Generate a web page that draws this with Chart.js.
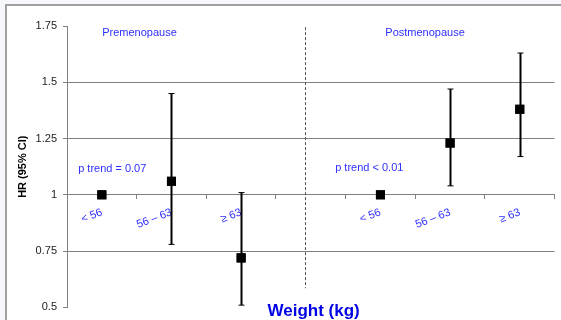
<!DOCTYPE html>
<html>
<head>
<meta charset="utf-8">
<script src="https://cdn.jsdelivr.net/npm/chart.js@4.4.1/dist/chart.umd.min.js"></script>
<style>
  html, body { margin: 0; padding: 0; background: #f7f8fc; }
  #wrap { width: 561px; height: 320px; position: relative; }
</style>
</head>
<body>
<div id="wrap"><canvas id="c" width="561" height="320"></canvas></div>
<script>
// weight categories (the empty one is the gap between the two groups)
const categories = ["< 56", "56 – 63", "≥ 63", "", "< 56", "56 – 63", "≥ 63"];
const hr     = [1.00, 1.06, 0.72, null, 1.00, 1.23, 1.38];
const ciLow  = [null, 0.78, 0.51, null, null, 1.04, 1.17];
const ciHigh = [null, 1.45, 1.01, null, null, 1.47, 1.63];
const yTicks = [0.5, 0.75, 1, 1.25, 1.5, 1.75];

const groupLabels = ["Premenopause", "Postmenopause"];
const trendLabels = ["p trend = 0.07", "p trend < 0.01"];

const FONT = "'Liberation Sans', Arial, sans-serif";
const BLUE = "#2f2fff";

// frame + notes + error bars, all placed through the scales
const extras = {
  id: "extras",
  beforeDraw(chart) {
    const c = chart.ctx;
    c.save();
    c.fillStyle = "#f7f8fc";
    c.fillRect(0, 0, chart.width, chart.height);
    c.fillStyle = "#ffffff";
    c.fillRect(6, 5, chart.width - 6, chart.height - 5);
    c.strokeStyle = "#a0a0a0";
    c.lineWidth = 2;
    c.beginPath();
    c.moveTo(6, chart.height);
    c.lineTo(6, 5);
    c.lineTo(chart.width, 5);
    c.stroke();
    c.restore();
  },
  afterDatasetsDraw(chart) {
    const c = chart.ctx, x = chart.scales.x, y = chart.scales.y;
    c.save();
    // divider between groups
    const dx = Math.round(x.getPixelForValue(2.92)) + 0.5;
    c.strokeStyle = "#555";
    c.lineWidth = 1;
    c.setLineDash([3, 2]);
    c.beginPath();
    c.moveTo(dx, y.getPixelForValue(1.745));
    c.lineTo(dx, y.getPixelForValue(0.585));
    c.stroke();
    c.setLineDash([]);

    // error bars
    c.strokeStyle = "#000";
    hr.forEach((v, i) => {
      if (ciLow[i] == null) return;
      const px = Math.round(x.getPixelForValue(i)) + 0.5;
      const top = y.getPixelForValue(ciHigh[i]);
      const bot = y.getPixelForValue(ciLow[i]);
      c.lineWidth = 2;
      c.beginPath();
      c.moveTo(px, top);
      c.lineTo(px, bot);
      c.stroke();
      c.lineWidth = 1;
      c.beginPath();
      c.moveTo(px - 3, top); c.lineTo(px + 3, top);
      c.moveTo(px - 3, bot); c.lineTo(px + 3, bot);
      c.stroke();
    });

    // text notes
    c.fillStyle = BLUE;
    c.font = "11px " + FONT;
    c.textBaseline = "middle";
    c.textAlign = "center";
    c.fillText(groupLabels[0], x.getPixelForValue(0.54), y.getPixelForValue(1.72));
    c.fillText(groupLabels[1], x.getPixelForValue(4.64), y.getPixelForValue(1.72));
    c.textAlign = "left";
    c.fillText(trendLabels[0], x.getPixelForValue(-0.34), y.getPixelForValue(1.115));
    c.fillText(trendLabels[1], x.getPixelForValue(3.35), y.getPixelForValue(1.12));

    c.fillStyle = "#0000e6";
    c.font = "bold 17px " + FONT;
    c.textAlign = "center";
    c.fillText("Weight (kg)", x.getPixelForValue(3.04), chart.height - 9);
    c.restore();
  }
};

// redraw the points on top of the error bars
const pointsOnTop = {
  id: "pointsOnTop",
  afterDraw(chart) {
    chart.getDatasetMeta(0).data.forEach(p => p.draw(chart.ctx, chart.chartArea));
  }
};

new Chart(document.getElementById("c"), {
  type: "line",
  data: {
    labels: categories,
    datasets: [{
      data: hr,
      showLine: false,
      pointStyle: "rect",
      pointRadius: 6.4,
      pointHoverRadius: 6.4,
      backgroundColor: "#000",
      borderColor: "#000",
      borderWidth: 0
    }]
  },
  options: {
    responsive: false,
    animation: false,
    events: [],
    layout: { padding: { left: 16, top: 26, right: 3, bottom: 10 } },
    plugins: { legend: { display: false }, tooltip: { enabled: false } },
    scales: {
      x: {
        type: "category",
        position: { y: 1 },
        offset: true,
        border: { display: true, color: "#808080", width: 1 },
        grid: { offset: true, drawOnChartArea: false, drawTicks: true, tickLength: 4, color: "#808080" },
        ticks: {
          color: BLUE,
          font: { family: FONT, size: 11 },
          minRotation: 21,
          maxRotation: 21,
          padding: 7,
          autoSkip: false
        }
      },
      y: {
        min: 0.5,
        max: 1.75,
        afterBuildTicks(s) { s.ticks = yTicks.map(v => ({ value: v })); },
        afterFit(s) { s.width = 51; },
        border: { display: true, color: "#808080", width: 1 },
        grid: {
          color: ctx => (ctx.tick && (ctx.tick.value === 0.5 || ctx.tick.value === 1.75)) ? "rgba(0,0,0,0)" : "#808080",
          tickColor: "#808080",
          tickLength: 4
        },
        ticks: {
          color: "#222",
          font: { family: FONT, size: 11 },
          padding: 6,
          callback: v => String(v)
        },
        title: {
          display: true,
          text: "HR (95% CI)",
          color: "#000",
          font: { family: FONT, size: 11, weight: "bold" },
          padding: { top: 0, bottom: 4 }
        }
      }
    }
  },
  plugins: [extras, pointsOnTop]
});
</script>
</body>
</html>
